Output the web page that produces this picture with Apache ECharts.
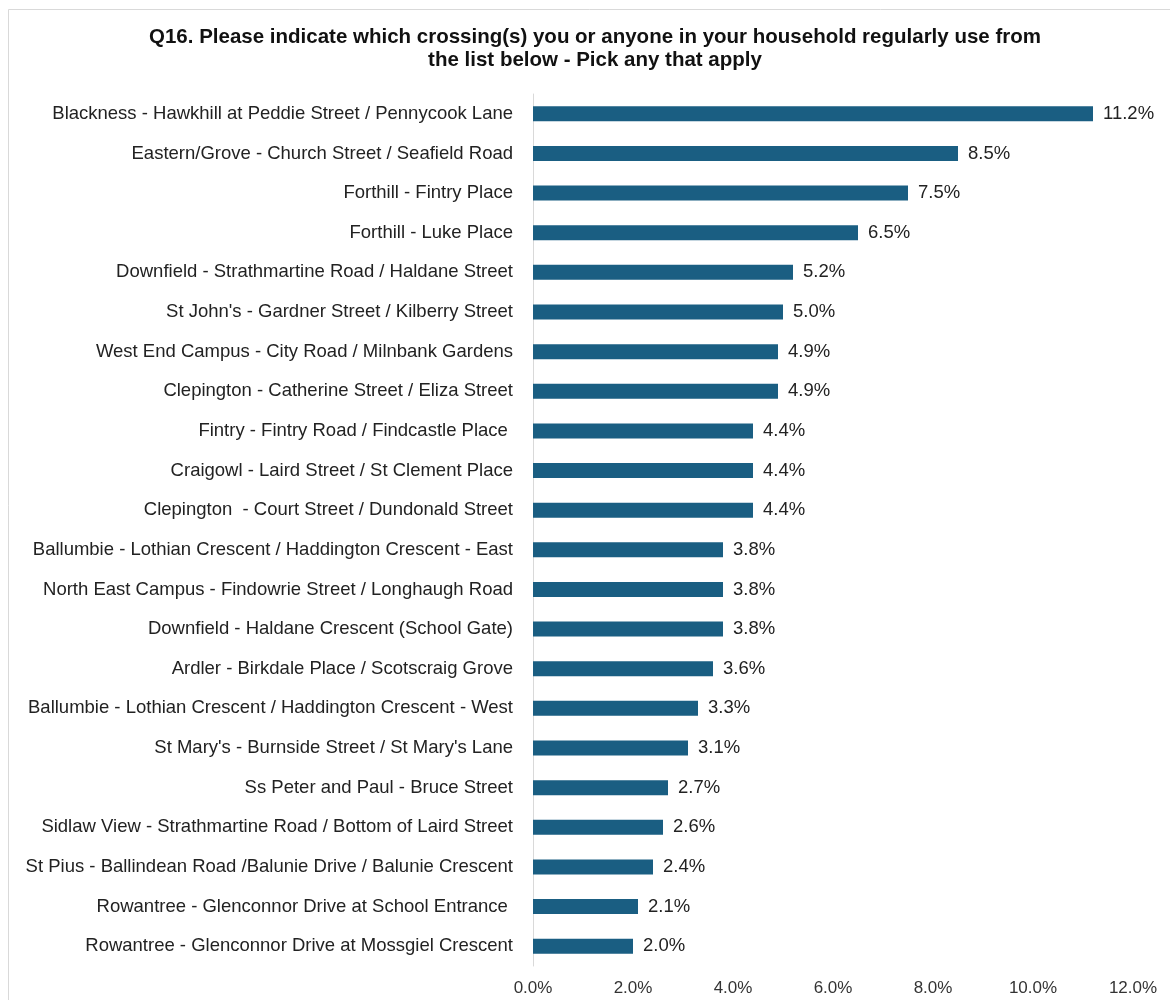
<!DOCTYPE html>
<html>

<head>
    <meta charset="utf-8">
    <title>ECharts</title>
    <script type="text/javascript" src="https://cdn.jsdelivr.net/npm/echarts@6/dist/echarts.min.js"></script>
    <style>
        body { margin: 0; background: #fff; }
    </style>
</head>

<body>
    <div id="main" style="width: 1170px;height:1000px;"></div>
    <script type="text/javascript">
        // crossings, top to bottom
        var crossings = [
            'Blackness - Hawkhill at Peddie Street / Pennycook Lane',
            'Eastern/Grove - Church Street / Seafield Road',
            'Forthill - Fintry Place',
            'Forthill - Luke Place',
            'Downfield - Strathmartine Road / Haldane Street',
            "St John's - Gardner Street / Kilberry Street",
            'West End Campus - City Road / Milnbank Gardens',
            'Clepington - Catherine Street / Eliza Street',
            'Fintry - Fintry Road / Findcastle Place ',
            'Craigowl - Laird Street / St Clement Place',
            'Clepington  - Court Street / Dundonald Street',
            'Ballumbie - Lothian Crescent / Haddington Crescent - East',
            'North East Campus - Findowrie Street / Longhaugh Road',
            'Downfield - Haldane Crescent (School Gate)',
            'Ardler - Birkdale Place / Scotscraig Grove',
            'Ballumbie - Lothian Crescent / Haddington Crescent - West',
            "St Mary's - Burnside Street / St Mary's Lane",
            'Ss Peter and Paul - Bruce Street',
            'Sidlaw View - Strathmartine Road / Bottom of Laird Street',
            'St Pius - Ballindean Road /Balunie Drive / Balunie Crescent',
            'Rowantree - Glenconnor Drive at School Entrance ',
            'Rowantree - Glenconnor Drive at Mossgiel Crescent'
        ];
        // percent of respondents
        var pct = [11.2, 8.5, 7.5, 6.5, 5.2, 5.0, 4.9, 4.9, 4.4, 4.4, 4.4,
            3.8, 3.8, 3.8, 3.6, 3.3, 3.1, 2.7, 2.6, 2.4, 2.1, 2.0];

        var myChart = echarts.init(document.getElementById('main'));
        var font = 'Arial, "Liberation Sans", sans-serif';

        var option = {
            backgroundColor: '#fff',
            animation: false,
            title: {
                text: 'Q16. Please indicate which crossing(s) you or anyone in your household regularly use from\nthe list below - Pick any that apply',
                left: 595,
                textAlign: 'center',
                top: 26,
                padding: 0,
                textStyle: {
                    fontFamily: font,
                    fontSize: 20.5,
                    fontWeight: 'bold',
                    color: '#111',
                    lineHeight: 23,
                    align: 'center'
                }
            },
            graphic: [{
                type: 'rect',
                shape: { x: 8.5, y: 9.5, width: 1200, height: 1000 },
                style: { fill: 'none', stroke: '#d9d9d9', lineWidth: 1 },
                silent: true
            }],
            grid: {
                left: 533,
                right: 37,
                top: 94,
                bottom: 34
            },
            xAxis: {
                type: 'value',
                min: 0,
                max: 12,
                interval: 2,
                splitLine: { show: false },
                axisLine: { show: false },
                axisTick: { show: false },
                axisLabel: {
                    margin: 14,
                    fontFamily: font,
                    fontSize: 17,
                    color: '#333',
                    formatter: function (v) { return v.toFixed(1) + '%'; }
                }
            },
            yAxis: {
                type: 'category',
                inverse: true,
                data: crossings,
                axisLine: { show: true, lineStyle: { color: '#d9d9d9', width: 1 } },
                axisTick: { show: false },
                axisLabel: {
                    margin: 20,
                    fontFamily: font,
                    fontSize: 18.5,
                    color: '#222'
                }
            },
            series: [{
                type: 'bar',
                data: pct,
                barWidth: 15,
                itemStyle: { color: '#1a5e82' },
                label: {
                    show: true,
                    position: 'right',
                    distance: 10,
                    fontFamily: font,
                    fontSize: 18.5,
                    color: '#222',
                    formatter: function (p) { return p.value.toFixed(1) + '%'; }
                }
            }]
        };

        myChart.setOption(option);
    </script>
</body>

</html>
